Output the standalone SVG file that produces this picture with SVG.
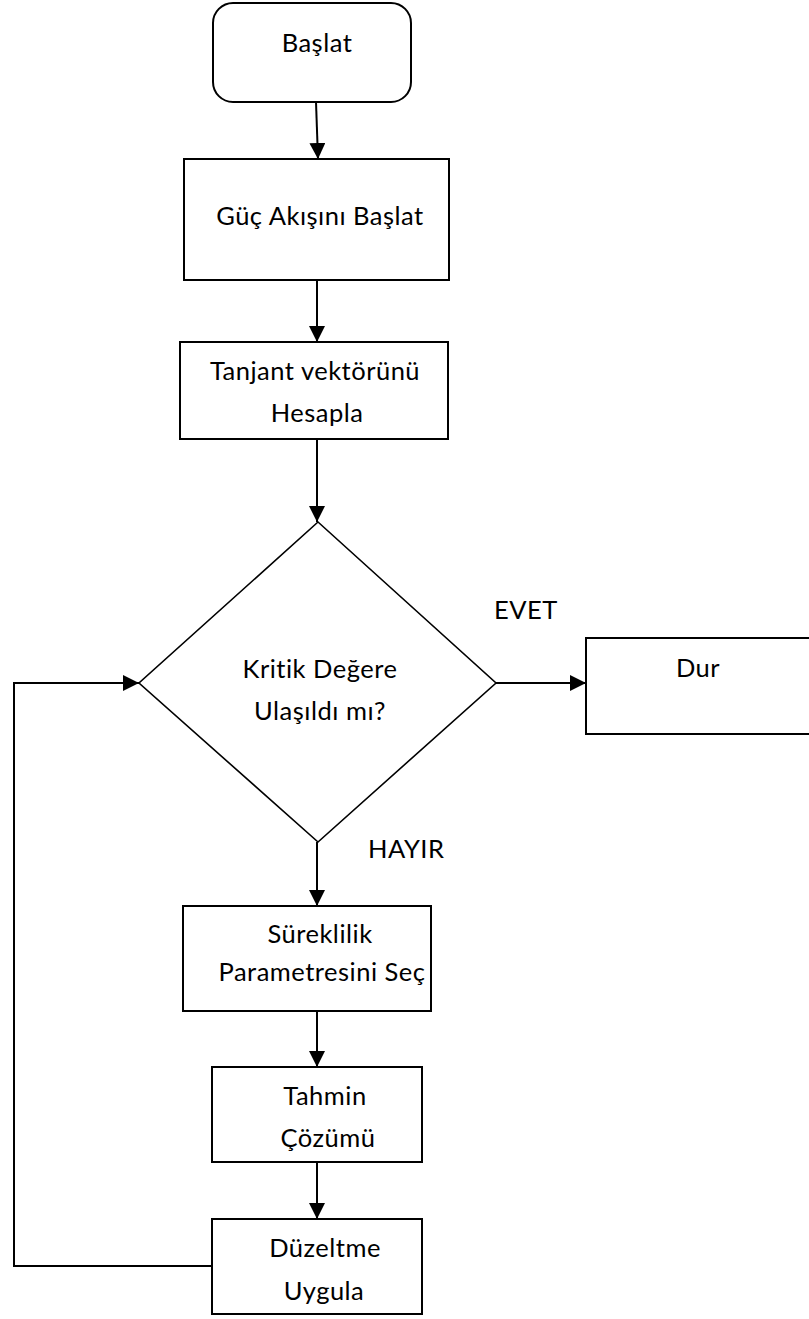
<svg xmlns="http://www.w3.org/2000/svg" width="809" height="1319" viewBox="0 0 809 1319">
  <defs>
    <style>
      .box { fill: #ffffff; stroke: #000000; stroke-width: 2; }
      .dia { fill: #ffffff; stroke: #000000; stroke-width: 1.6; }
      .lbl, .tag { font-family: Lato, "Open Sans", "Liberation Sans", sans-serif; font-size: 25.5px; letter-spacing: 0.5px; font-variant-ligatures: none; fill: #000000; }
      .lbl { text-anchor: middle; }
      .flow { fill: none; stroke: #000000; stroke-width: 2; }
    </style>
    <marker id="arrow" markerUnits="userSpaceOnUse" markerWidth="17" markerHeight="16" refX="16" refY="8" orient="auto">
      <path d="M0,0 L16,8 L0,16 z" fill="#000000"/>
    </marker>
  </defs>

  <g id="connectors">
    <line class="flow" x1="316" y1="102" x2="318" y2="159" marker-end="url(#arrow)"/>
    <line class="flow" x1="317" y1="280" x2="317" y2="342" marker-end="url(#arrow)"/>
    <line class="flow" x1="317" y1="439" x2="317" y2="522" marker-end="url(#arrow)"/>
    <line class="flow" x1="496" y1="683" x2="586" y2="683" marker-end="url(#arrow)"/>
    <line class="flow" x1="317" y1="842" x2="317" y2="906" marker-end="url(#arrow)"/>
    <line class="flow" x1="317" y1="1011" x2="317" y2="1067" marker-end="url(#arrow)"/>
    <line class="flow" x1="317" y1="1162" x2="317" y2="1219" marker-end="url(#arrow)"/>
    <polyline class="flow" points="212,1266 14,1266 14,683 139,683" marker-end="url(#arrow)"/>
  </g>

  <g id="start">
    <rect class="box" x="213" y="3" width="198" height="99" rx="20" ry="20"/>
    <text class="lbl" x="317" y="52">Başlat</text>
  </g>

  <g id="init-flow">
    <rect class="box" x="184" y="159" width="265" height="121"/>
    <text class="lbl" x="320" y="225">Güç Akışını Başlat</text>
  </g>

  <g id="tangent">
    <rect class="box" x="180" y="342" width="268" height="97"/>
    <text class="lbl" x="315" y="380">Tanjant vektörünü</text>
    <text class="lbl" x="317" y="422">Hesapla</text>
  </g>

  <g id="decision">
    <polygon class="dia" points="318,522 496,683 318,842 139,683"/>
    <text class="lbl" x="320" y="678">Kritik Değere</text>
    <text class="lbl" x="320" y="720">Ulaşıldı mı?</text>
  </g>

  <g id="labels">
    <text class="tag" x="494" y="619">EVET</text>
    <text class="tag" x="368" y="858">HAYIR</text>
  </g>

  <g id="stop">
    <rect class="box" x="586" y="638" width="228" height="96"/>
    <text class="lbl" x="698" y="677">Dur</text>
  </g>

  <g id="param">
    <rect class="box" x="183" y="906" width="248" height="105"/>
    <text class="lbl" x="320" y="943">Süreklilik</text>
    <text class="lbl" x="322" y="981">Parametresini Seç</text>
  </g>

  <g id="predict">
    <rect class="box" x="212" y="1067" width="210" height="95"/>
    <text class="lbl" x="325" y="1105">Tahmin</text>
    <text class="lbl" x="328" y="1147">Çözümü</text>
  </g>

  <g id="correct">
    <rect class="box" x="212" y="1219" width="210" height="95"/>
    <text class="lbl" x="325" y="1257">Düzeltme</text>
    <text class="lbl" x="324" y="1300">Uygula</text>
  </g>
</svg>
